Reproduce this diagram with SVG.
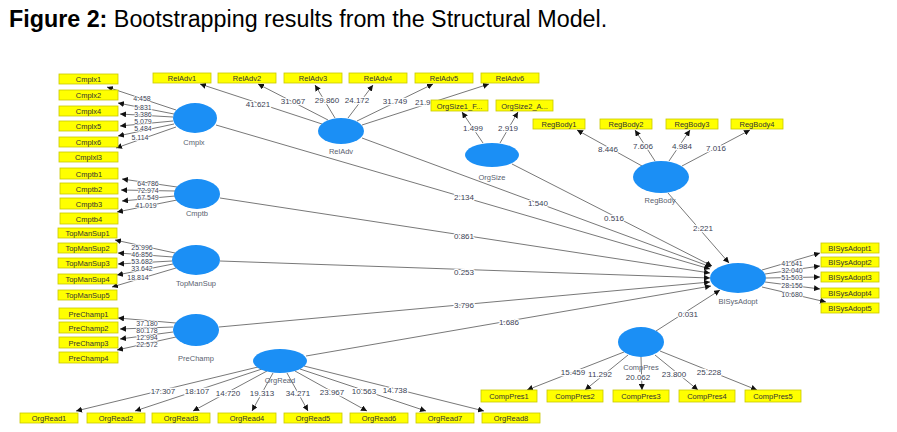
<svg xmlns="http://www.w3.org/2000/svg" width="897" height="432" viewBox="0 0 897 432">
<style>
.bg{fill:#ffffff}
.title{font-family:"Liberation Sans",Arial,sans-serif;font-size:23.3px;fill:#000}
.box{fill:#ffff00;stroke:#c9c900;stroke-width:0.8}
.bt{font-family:"Liberation Sans",Arial,sans-serif;font-size:7.5px;fill:#333;text-anchor:middle}
.lv{fill:#1b8ff5}
.ln{font-family:"Liberation Sans",Arial,sans-serif;font-size:7.5px;fill:#5a5f70;text-anchor:middle}
.c{stroke:#555;stroke-width:0.8;fill:none;marker-end:url(#ah)}
.lb{font-family:"Liberation Sans",Arial,sans-serif;font-size:8px;fill:#3b3f55;text-anchor:middle;stroke:#fff;stroke-width:2.5px;paint-order:stroke;stroke-linejoin:round}
.sm{font-size:7px;stroke-width:1.5px}
</style>
<defs>
<marker id="ah" markerUnits="userSpaceOnUse" markerWidth="6" markerHeight="6" refX="6" refY="3" orient="auto">
<path d="M0,0 L6,3 L0,6 z" fill="#111"/>
</marker>
</defs>
<rect class="bg" x="0" y="0" width="897" height="432"/>
<text class="title" x="9" y="27"><tspan font-weight="bold">Figure 2:</tspan> Bootstrapping results from the Structural Model.</text>

<g id="connectors">
<!-- structural paths -->
<line class="c" x1="216" y1="125" x2="710" y2="269"/>
<line class="c" x1="362" y1="138" x2="711" y2="267"/>
<line class="c" x1="512" y1="164" x2="712" y2="266"/>
<line class="c" x1="668" y1="193" x2="729" y2="263"/>
<line class="c" x1="220" y1="198" x2="710" y2="273"/>
<line class="c" x1="220" y1="261" x2="710" y2="278"/>
<line class="c" x1="219" y1="327" x2="710" y2="282"/>
<line class="c" x1="306" y1="356" x2="711" y2="286"/>
<line class="c" x1="656" y1="331" x2="720" y2="290"/>
<text class="lb" x="464" y="200">2.134</text>
<text class="lb" x="538" y="206">1.540</text>
<text class="lb" x="614" y="221">0.516</text>
<text class="lb" x="703" y="231">2.221</text>
<text class="lb" x="464" y="239">0.861</text>
<text class="lb" x="464" y="275">0.253</text>
<text class="lb" x="464" y="308">3.796</text>
<text class="lb" x="509" y="325">1.686</text>
<text class="lb" x="688" y="317">0.031</text>
<!-- Cmplx -->
<line class="c" x1="176" y1="110" x2="107" y2="87"/>
<line class="c" x1="174" y1="114" x2="118" y2="103"/>
<line class="c" x1="173" y1="117" x2="120" y2="114"/>
<line class="c" x1="173" y1="121" x2="120" y2="126"/>
<line class="c" x1="174" y1="124" x2="118" y2="136"/>
<line class="c" x1="176" y1="127" x2="116" y2="148"/>
<text class="lb sm" x="142" y="101">4.458</text>
<text class="lb sm" x="143" y="110">5.831</text>
<text class="lb sm" x="143" y="117">3.386</text>
<text class="lb sm" x="143" y="124">5.079</text>
<text class="lb sm" x="143" y="131">5.484</text>
<text class="lb sm" x="140" y="140">5.114</text>
<!-- Cmptb -->
<line class="c" x1="177" y1="187" x2="122" y2="179"/>
<line class="c" x1="175" y1="191" x2="121" y2="190"/>
<line class="c" x1="175" y1="196" x2="122" y2="201"/>
<line class="c" x1="177" y1="200" x2="117" y2="212"/>
<text class="lb sm" x="148" y="186">64.786</text>
<text class="lb sm" x="148" y="193">72.974</text>
<text class="lb sm" x="148" y="200">67.549</text>
<text class="lb sm" x="146" y="208">41.019</text>
<!-- TopManSup -->
<line class="c" x1="175" y1="253" x2="115" y2="240"/>
<line class="c" x1="173" y1="257" x2="118" y2="253"/>
<line class="c" x1="172" y1="261" x2="118" y2="264"/>
<line class="c" x1="173" y1="264" x2="117" y2="275"/>
<line class="c" x1="176" y1="268" x2="112" y2="287"/>
<text class="lb sm" x="142" y="250">25.996</text>
<text class="lb sm" x="142" y="257">46.856</text>
<text class="lb sm" x="142" y="264">53.682</text>
<text class="lb sm" x="142" y="271">33.642</text>
<text class="lb sm" x="138" y="280">18.814</text>
<!-- PreChamp -->
<line class="c" x1="176" y1="323" x2="118" y2="318"/>
<line class="c" x1="173" y1="327" x2="120" y2="329"/>
<line class="c" x1="173" y1="332" x2="120" y2="339"/>
<line class="c" x1="176" y1="337" x2="117" y2="350"/>
<text class="lb sm" x="147" y="326">37.180</text>
<text class="lb sm" x="147" y="333">80.178</text>
<text class="lb sm" x="147" y="340">12.994</text>
<text class="lb sm" x="147" y="347">22.572</text>
<!-- RelAdv -->
<line class="c" x1="322" y1="124" x2="200" y2="84"/>
<line class="c" x1="328" y1="120" x2="258" y2="84"/>
<line class="c" x1="335" y1="118" x2="315" y2="85"/>
<line class="c" x1="348" y1="118" x2="373" y2="85"/>
<line class="c" x1="357" y1="121" x2="433" y2="84"/>
<line class="c" x1="362" y1="125" x2="489" y2="84"/>
<text class="lb" x="258" y="107">41.621</text>
<text class="lb" x="293" y="104">31.067</text>
<text class="lb" x="327" y="103">29.860</text>
<text class="lb" x="357" y="103">24.172</text>
<text class="lb" x="395" y="104">31.749</text>
<text class="lb" x="415" y="105" style="text-anchor:start">21.9</text>
<!-- OrgSize -->
<line class="c" x1="483" y1="143" x2="462" y2="112"/>
<line class="c" x1="500" y1="143" x2="518" y2="112"/>
<text class="lb" x="473" y="131">1.499</text>
<text class="lb" x="508" y="131">2.919</text>
<!-- RegBody -->
<line class="c" x1="642" y1="166" x2="577" y2="130"/>
<line class="c" x1="655" y1="161" x2="635" y2="130"/>
<line class="c" x1="669" y1="161" x2="690" y2="130"/>
<line class="c" x1="682" y1="166" x2="750" y2="130"/>
<text class="lb" x="608" y="152">8.446</text>
<text class="lb" x="643" y="149">7.606</text>
<text class="lb" x="682" y="149">4.984</text>
<text class="lb" x="716" y="151">7.016</text>
<!-- BISysAdopt -->
<line class="c" x1="762" y1="270" x2="820" y2="253"/>
<line class="c" x1="765" y1="274" x2="820" y2="266"/>
<line class="c" x1="766" y1="278" x2="820" y2="277"/>
<line class="c" x1="765" y1="282" x2="820" y2="289"/>
<line class="c" x1="762" y1="287" x2="826" y2="302"/>
<text class="lb sm" x="792" y="266">41.641</text>
<text class="lb sm" x="792" y="273">32.040</text>
<text class="lb sm" x="792" y="280">51.503</text>
<text class="lb sm" x="792" y="288">28.156</text>
<text class="lb sm" x="792" y="297">10.680</text>
<!-- OrgRead -->
<line class="c" x1="258" y1="367" x2="76" y2="411"/>
<line class="c" x1="262" y1="369" x2="135" y2="411"/>
<line class="c" x1="267" y1="371" x2="193" y2="411"/>
<line class="c" x1="273" y1="373" x2="252" y2="411"/>
<line class="c" x1="287" y1="373" x2="308" y2="411"/>
<line class="c" x1="295" y1="371" x2="367" y2="411"/>
<line class="c" x1="300" y1="369" x2="426" y2="411"/>
<line class="c" x1="304" y1="366" x2="484" y2="411"/>
<text class="lb" x="163" y="394">17.307</text>
<text class="lb" x="197" y="394">18.107</text>
<text class="lb" x="228" y="396">14.720</text>
<text class="lb" x="262" y="396">19.313</text>
<text class="lb" x="298" y="396">34.271</text>
<text class="lb" x="332" y="395">23.967</text>
<text class="lb" x="364" y="394">10.563</text>
<text class="lb" x="395" y="393">14.738</text>
<!-- CompPres -->
<line class="c" x1="624" y1="352" x2="527" y2="390"/>
<line class="c" x1="628" y1="355" x2="585" y2="390"/>
<line class="c" x1="641" y1="357" x2="642" y2="390"/>
<line class="c" x1="655" y1="355" x2="698" y2="390"/>
<line class="c" x1="660" y1="351" x2="757" y2="390"/>
<text class="lb" x="573" y="375">15.459</text>
<text class="lb" x="600" y="377">11.292</text>
<text class="lb" x="638" y="380">20.062</text>
<text class="lb" x="674" y="377">23.800</text>
<text class="lb" x="709" y="375">25.228</text>
</g>

<!-- latent variables -->
<g id="Cmplx"><ellipse class="lv" cx="195" cy="118" rx="22" ry="15"/><text class="ln" x="194" y="145">Cmplx</text></g>
<g id="Cmptb"><ellipse class="lv" cx="197" cy="194" rx="23" ry="15"/><text class="ln" x="197" y="216">Cmptb</text></g>
<g id="TopManSup"><ellipse class="lv" cx="196" cy="260" rx="24" ry="15"/><text class="ln" x="196" y="286">TopManSup</text></g>
<g id="PreChamp"><ellipse class="lv" cx="196" cy="330" rx="23" ry="16"/><text class="ln" x="196" y="361">PreChamp</text></g>
<g id="RelAdv"><ellipse class="lv" cx="341" cy="131" rx="23" ry="13"/><text class="ln" x="341" y="154">RelAdv</text></g>
<g id="OrgSize"><ellipse class="lv" cx="492" cy="155" rx="27" ry="12"/><text class="ln" x="492" y="180">OrgSize</text></g>
<g id="RegBody"><ellipse class="lv" cx="661" cy="177" rx="28" ry="16"/><text class="ln" x="660" y="203">RegBody</text></g>
<g id="BISysAdopt"><ellipse class="lv" cx="738" cy="278" rx="28" ry="15"/><text class="ln" x="738" y="304">BISysAdopt</text></g>
<g id="OrgRead"><ellipse class="lv" cx="280" cy="361" rx="27" ry="12"/><text class="ln" x="280" y="383">OrgRead</text></g>
<g id="CompPres"><ellipse class="lv" cx="641" cy="342" rx="23" ry="15"/><text class="ln" x="641" y="370">CompPres</text></g>

<!-- indicators -->
<g id="Cmplx1"><rect class="box" x="59" y="74" width="59" height="10"/><text class="bt" x="88.5" y="82">Cmplx1</text></g>
<g id="Cmplx2"><rect class="box" x="59" y="90" width="59" height="10"/><text class="bt" x="88.5" y="98">Cmplx2</text></g>
<g id="Cmplx4"><rect class="box" x="59" y="106" width="59" height="10"/><text class="bt" x="88.5" y="114">Cmplx4</text></g>
<g id="Cmplx5"><rect class="box" x="59" y="121" width="59" height="10"/><text class="bt" x="88.5" y="129">Cmplx5</text></g>
<g id="Cmplx6"><rect class="box" x="59" y="137" width="59" height="10"/><text class="bt" x="88.5" y="145">Cmplx6</text></g>
<g id="Cmplxl3"><rect class="box" x="59" y="152" width="59" height="10"/><text class="bt" x="88.5" y="160">Cmplxl3</text></g>

<g id="Cmptb1"><rect class="box" x="60" y="168" width="58" height="11"/><text class="bt" x="89" y="176.5">Cmptb1</text></g>
<g id="Cmptb2"><rect class="box" x="60" y="183" width="58" height="11"/><text class="bt" x="89" y="191.5">Cmptb2</text></g>
<g id="Cmptb3"><rect class="box" x="60" y="198" width="58" height="11"/><text class="bt" x="89" y="206.5">Cmptb3</text></g>
<g id="Cmptb4"><rect class="box" x="60" y="213" width="58" height="11"/><text class="bt" x="89" y="221.5">Cmptb4</text></g>

<g id="TopManSup1"><rect class="box" x="58" y="228" width="59" height="10"/><text class="bt" x="87.5" y="236">TopManSup1</text></g>
<g id="TopManSup2"><rect class="box" x="58" y="243" width="59" height="10"/><text class="bt" x="87.5" y="251">TopManSup2</text></g>
<g id="TopManSup3"><rect class="box" x="58" y="258" width="59" height="10"/><text class="bt" x="87.5" y="266">TopManSup3</text></g>
<g id="TopManSup4"><rect class="box" x="58" y="274" width="59" height="10"/><text class="bt" x="87.5" y="282">TopManSup4</text></g>
<g id="TopManSup5"><rect class="box" x="58" y="290" width="59" height="10"/><text class="bt" x="87.5" y="298">TopManSup5</text></g>

<g id="PreChamp1"><rect class="box" x="59" y="308" width="59" height="11"/><text class="bt" x="88.5" y="316.5">PreChamp1</text></g>
<g id="PreChamp2"><rect class="box" x="59" y="322" width="59" height="11"/><text class="bt" x="88.5" y="330.5">PreChamp2</text></g>
<g id="PreChamp3"><rect class="box" x="59" y="337" width="59" height="11"/><text class="bt" x="88.5" y="345.5">PreChamp3</text></g>
<g id="PreChamp4"><rect class="box" x="59" y="352" width="59" height="11"/><text class="bt" x="88.5" y="360.5">PreChamp4</text></g>

<g id="RelAdv1"><rect class="box" x="153" y="73" width="58" height="10"/><text class="bt" x="182" y="81">RelAdv1</text></g>
<g id="RelAdv2"><rect class="box" x="218" y="73" width="58" height="10"/><text class="bt" x="247" y="81">RelAdv2</text></g>
<g id="RelAdv3"><rect class="box" x="284" y="73" width="58" height="10"/><text class="bt" x="313" y="81">RelAdv3</text></g>
<g id="RelAdv4"><rect class="box" x="349" y="73" width="58" height="10"/><text class="bt" x="378" y="81">RelAdv4</text></g>
<g id="RelAdv5"><rect class="box" x="415" y="73" width="58" height="10"/><text class="bt" x="444" y="81">RelAdv5</text></g>
<g id="RelAdv6"><rect class="box" x="481" y="73" width="58" height="10"/><text class="bt" x="510" y="81">RelAdv6</text></g>

<g id="OrgSize1"><rect class="box" x="431" y="100" width="57" height="11"/><text class="bt" x="459.5" y="108.5">OrgSize1_F...</text></g>
<g id="OrgSize2"><rect class="box" x="496" y="100" width="57" height="11"/><text class="bt" x="524.5" y="108.5">OrgSize2_A...</text></g>

<g id="RegBody1"><rect class="box" x="533" y="119" width="52" height="10"/><text class="bt" x="559" y="127">RegBody1</text></g>
<g id="RegBody2"><rect class="box" x="600" y="119" width="52" height="10"/><text class="bt" x="626" y="127">RegBody2</text></g>
<g id="RegBody3"><rect class="box" x="666" y="119" width="52" height="10"/><text class="bt" x="692" y="127">RegBody3</text></g>
<g id="RegBody4"><rect class="box" x="731" y="119" width="52" height="10"/><text class="bt" x="757" y="127">RegBody4</text></g>

<g id="BISysAdopt1"><rect class="box" x="821" y="243" width="58" height="10"/><text class="bt" x="850" y="251">BISysAdopt1</text></g>
<g id="BISysAdopt2"><rect class="box" x="821" y="257" width="58" height="10"/><text class="bt" x="850" y="265">BISysAdopt2</text></g>
<g id="BISysAdopt3"><rect class="box" x="821" y="272" width="58" height="10"/><text class="bt" x="850" y="280">BISysAdopt3</text></g>
<g id="BISysAdopt4"><rect class="box" x="821" y="288" width="58" height="10"/><text class="bt" x="850" y="296">BISysAdopt4</text></g>
<g id="BISysAdopt5"><rect class="box" x="821" y="303" width="58" height="10"/><text class="bt" x="850" y="311">BISysAdopt5</text></g>

<g id="OrgRead1"><rect class="box" x="20" y="413" width="58" height="10"/><text class="bt" x="49" y="421">OrgRead1</text></g>
<g id="OrgRead2"><rect class="box" x="87" y="413" width="58" height="10"/><text class="bt" x="116" y="421">OrgRead2</text></g>
<g id="OrgRead3"><rect class="box" x="152" y="413" width="58" height="10"/><text class="bt" x="181" y="421">OrgRead3</text></g>
<g id="OrgRead4"><rect class="box" x="218" y="413" width="58" height="10"/><text class="bt" x="247" y="421">OrgRead4</text></g>
<g id="OrgRead5"><rect class="box" x="284" y="413" width="58" height="10"/><text class="bt" x="313" y="421">OrgRead5</text></g>
<g id="OrgRead6"><rect class="box" x="350" y="413" width="58" height="10"/><text class="bt" x="379" y="421">OrgRead6</text></g>
<g id="OrgRead7"><rect class="box" x="416" y="413" width="58" height="10"/><text class="bt" x="445" y="421">OrgRead7</text></g>
<g id="OrgRead8"><rect class="box" x="482" y="413" width="58" height="10"/><text class="bt" x="511" y="421">OrgRead8</text></g>

<g id="CompPres1"><rect class="box" x="481" y="390" width="56" height="12"/><text class="bt" x="509" y="399">CompPres1</text></g>
<g id="CompPres2"><rect class="box" x="547" y="390" width="56" height="12"/><text class="bt" x="575" y="399">CompPres2</text></g>
<g id="CompPres3"><rect class="box" x="613" y="390" width="56" height="12"/><text class="bt" x="641" y="399">CompPres3</text></g>
<g id="CompPres4"><rect class="box" x="679" y="390" width="56" height="12"/><text class="bt" x="707" y="399">CompPres4</text></g>
<g id="CompPres5"><rect class="box" x="745" y="390" width="56" height="12"/><text class="bt" x="773" y="399">CompPres5</text></g>
</svg>
